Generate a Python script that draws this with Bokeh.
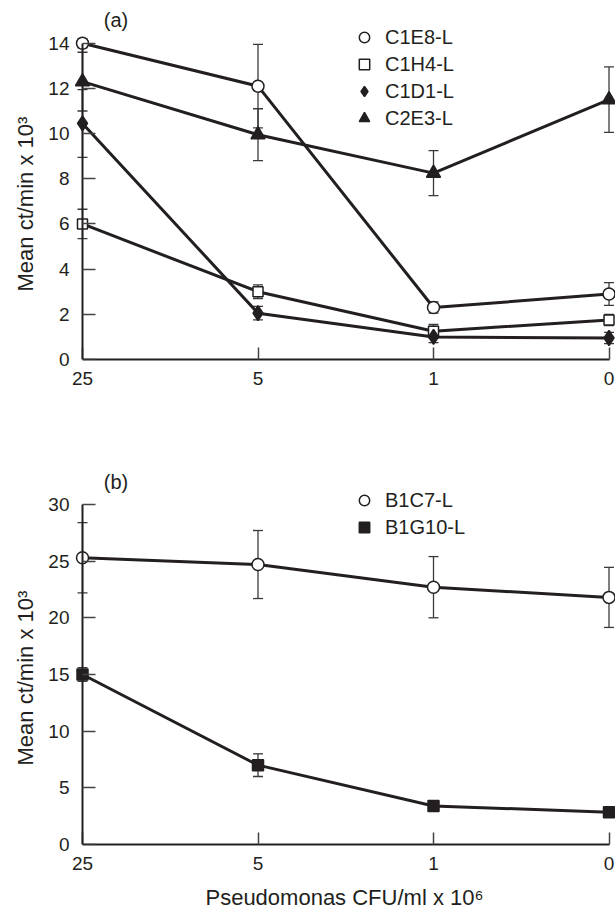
from bokeh.plotting import figure
from bokeh.models import (Range1d, FixedTicker, ColumnDataSource, Whisker, TeeHead,
                          Legend, LegendItem, Label, LinearAxis, Title)
from bokeh.layouts import column
from bokeh.embed import file_html
from bokeh.resources import INLINE

# ---------------- data ----------------
x_labels = ["25", "5", "1", "0"]
x_pos = [0, 1, 2, 3]

# panel (a)
c1e8 = [14.0, 12.1, 2.3, 2.9]
c1e8_err = [0.2, 1.85, 0.25, 0.5]
c1h4 = [6.0, 3.0, 1.25, 1.75]
c1h4_err = [0.65, 0.3, 0.3, 0.25]
c1d1 = [10.45, 2.05, 1.0, 0.95]
c1d1_err = [1.5, 0.3, 0.25, 0.25]
c2e3 = [12.3, 9.95, 8.25, 11.5]
c2e3_err = [1.3, 1.15, 1.0, 1.45]

# panel (b)
b1c7 = [25.3, 24.7, 22.7, 21.8]
b1c7_err = [3.1, 3.0, 2.7, 2.65]
b1g10 = [15.0, 7.0, 3.4, 2.85]
b1g10_err = [0.6, 1.0, 0.3, 0.3]

a_ticks = [0, 2, 4, 6, 8, 10, 12, 14]
b_ticks = [0, 5, 10, 15, 20, 25, 30]

Y_TITLE = "Mean ct/min x 10\u00b3"
X_TITLE = "Pseudomonas CFU/ml x 10\u2076"

# ---------------- style ----------------
INK = "#231f20"
FONT = "Liberation Sans"
TICK_FS = "19px"
TITLE_FS = "22px"


def make_fig(height, border_bottom, y_end, y_max, yticks, xtitle, title_offset):
    p = figure(width=615, height=height, output_backend="svg", toolbar_location=None,
               x_range=Range1d(-0.0513, 3.037), y_range=Range1d(0, y_end),
               min_border_left=73, min_border_right=0, min_border_top=5,
               min_border_bottom=border_bottom)
    p.outline_line_color = None
    p.xgrid.visible = False
    p.ygrid.visible = False
    p.background_fill_color = "white"
    p.border_fill_color = "white"

    xa = p.xaxis[0]
    xa.ticker = FixedTicker(ticks=x_pos)
    xa.major_label_overrides = {i: s for i, s in zip(x_pos, x_labels)}
    xa.bounds = (0, 3)
    xa.major_tick_in = 12
    xa.major_tick_out = 0
    xa.minor_tick_line_color = None
    xa.axis_line_color = INK
    xa.axis_line_width = 2
    xa.major_tick_line_color = "#444444"
    xa.major_tick_line_width = 1.5
    xa.major_label_standoff = 12
    xa.major_label_text_font = FONT
    xa.major_label_text_font_size = TICK_FS
    xa.major_label_text_color = INK
    if xtitle:
        xa.axis_label = xtitle
        xa.axis_label_text_font = FONT
        xa.axis_label_text_font_size = TITLE_FS
        xa.axis_label_text_font_style = "normal"
        xa.axis_label_text_color = INK
        xa.axis_label_standoff = 12

    # axis line + ticks, pinned at the "25" position
    ya = p.yaxis[0]
    ya.fixed_location = 0
    ya.ticker = FixedTicker(ticks=yticks)
    ya.bounds = (0, y_max)
    ya.major_tick_in = 13
    ya.major_tick_out = 0
    ya.minor_tick_line_color = None
    ya.axis_line_color = INK
    ya.axis_line_width = 2
    ya.major_tick_line_color = "#444444"
    ya.major_tick_line_width = 1.5
    ya.major_label_standoff = 0
    ya.major_label_text_font_size = "0px"
    ya.major_label_text_alpha = 0

    # tick labels
    yl = LinearAxis(ticker=FixedTicker(ticks=yticks))
    yl.axis_line_color = None
    yl.major_tick_line_color = None
    yl.minor_tick_line_color = None
    yl.major_tick_in = 0
    yl.major_tick_out = 0
    yl.major_label_standoff = 4
    yl.major_label_text_font = FONT
    yl.major_label_text_font_size = TICK_FS
    yl.major_label_text_color = INK
    p.add_layout(yl, "left")

    # y title, placed along the drawn axis extent
    p.add_layout(Title(text=Y_TITLE, align="left", offset=title_offset,
                       text_font=FONT, text_font_size=TITLE_FS,
                       text_font_style="normal", text_color=INK, standoff=16), "left")
    return p


def add_series(p, vals, errs, marker, fill, size):
    src = ColumnDataSource(dict(x=x_pos, y=vals,
                                lo=[v - e for v, e in zip(vals, errs)],
                                hi=[v + e for v, e in zip(vals, errs)]))
    w = Whisker(source=src, base="x", upper="hi", lower="lo", dimension="height",
                line_color="#3a3a3a", line_width=1.3, level="underlay",
                upper_head=TeeHead(size=10, line_color="#3a3a3a", line_width=1.3),
                lower_head=TeeHead(size=10, line_color="#3a3a3a", line_width=1.3))
    p.add_layout(w)
    p.line("x", "y", source=src, line_color=INK, line_width=3)
    return src, marker, fill, size


def add_markers(p, spec):
    src, marker, fill, size = spec
    return p.scatter("x", "y", source=src, marker=marker, size=size,
                     fill_color=fill, line_color=INK, line_width=1.5)


def add_legend(p, names, rends, x_off, y_off):
    items = [LegendItem(label=n, renderers=[r]) for n, r in zip(names, rends)]
    lg = Legend(items=items, location=(x_off, y_off), orientation="vertical",
                glyph_width=26, glyph_height=26, label_height=20, spacing=1,
                label_standoff=8, padding=0, margin=0,
                border_line_color=None, background_fill_alpha=0,
                label_text_font=FONT, label_text_font_size="20px",
                label_text_color=INK)
    p.add_layout(lg)


# ---------------- panel (a) ----------------
pa = make_fig(440, 81, 15.67, 14, a_ticks, None, 68)
sa = [add_series(pa, c1e8, c1e8_err, "circle", "white", 12),
      add_series(pa, c1h4, c1h4_err, "square", "white", 10),
      add_series(pa, c1d1, c1d1_err, "diamond", INK, 15),
      add_series(pa, c2e3, c2e3_err, "triangle", INK, 14)]
ra = [add_markers(pa, s) for s in sa]
add_legend(pa, ["C1E8-L", "C1H4-L", "C1D1-L", "C2E3-L"], ra, 278, 228)
pa.add_layout(Label(x=0.121, y=15.05, text="(a)", text_font=FONT, text_font_size="20px",
                    text_color=INK, text_baseline="middle", text_align="left"))

# ---------------- panel (b) ----------------
pb = make_fig(475, 71, 35.2, 30, b_ticks, X_TITLE, 79)
sb = [add_series(pb, b1c7, b1c7_err, "circle", "white", 12),
      add_series(pb, b1g10, b1g10_err, "square", INK, 11)]
rb = [add_markers(pb, s) for s in sb]
add_legend(pb, ["B1C7-L", "B1G10-L"], rb, 278, 304)
pb.add_layout(Label(x=0.121, y=31.95, text="(b)", text_font=FONT, text_font_size="20px",
                    text_color=INK, text_baseline="middle", text_align="left"))

layout = column(pa, pb, spacing=0)
open("out.html", "w").write(file_html(layout, INLINE))
